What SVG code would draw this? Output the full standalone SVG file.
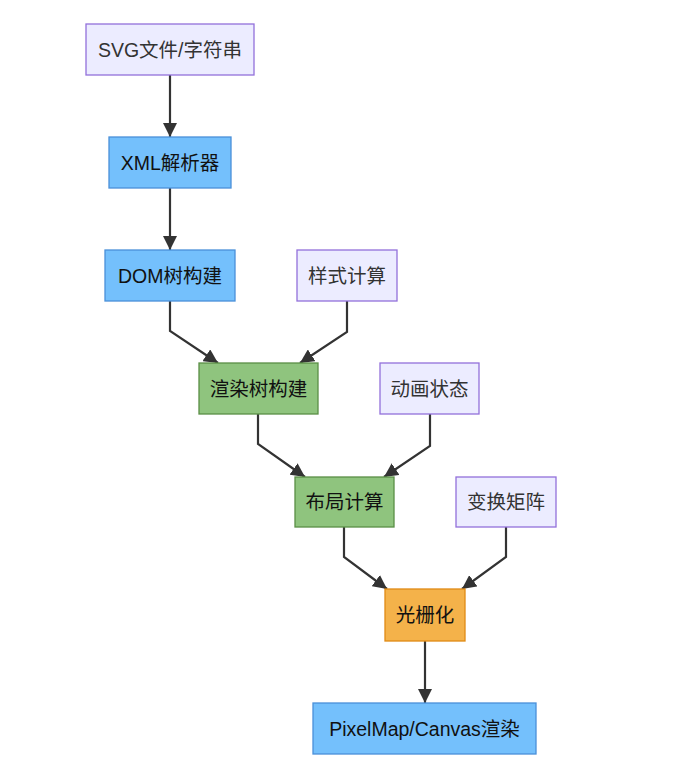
<svg xmlns="http://www.w3.org/2000/svg" width="680" height="784" viewBox="0 0 680 784">
<defs>
<marker id="arr" viewBox="0 0 14 14" refX="14" refY="7" markerWidth="14" markerHeight="14" markerUnits="userSpaceOnUse" orient="auto">
<path d="M0,0 L14,7 L0,14 z" fill="#333"/>
</marker>
<style>
.lav{fill:#ECECFF;stroke:#9370DB;stroke-width:1.3}
.blue{fill:#74C0FC;stroke:#4A90D9;stroke-width:1.3}
.green{fill:#8FC47E;stroke:#5A8F46;stroke-width:1.3}
.orange{fill:#F4B24A;stroke:#E08A14;stroke-width:1.3}
text{font-family:"Liberation Sans","Noto Sans CJK SC",sans-serif;font-size:19.5px;text-anchor:middle;dominant-baseline:central}
.t1{fill:#333}
.t2{fill:#111}
.e{fill:none;stroke:#333;stroke-width:2.2;marker-end:url(#arr)}
</style>
</defs>
<rect width="680" height="784" fill="#fff"/>
<g id="edges">
<path class="e" d="M170,75 L170,137"/>
<path class="e" d="M170,188 L170,250"/>
<path class="e" d="M170,301 L170,331 L218,363"/>
<path class="e" d="M347,301 L347,332 L300,363"/>
<path class="e" d="M258,414 L258,444 L305,477"/>
<path class="e" d="M430,414 L430,446 L384,477"/>
<path class="e" d="M344,527 L344,557 L387,589"/>
<path class="e" d="M506,527 L506,557 L462,589"/>
<path class="e" d="M425,641 L425,703"/>
</g>
<g id="n1"><rect class="lav" x="86" y="24" width="168" height="51"/><text class="t1" x="170" y="49.5">SVG文件/字符串</text></g>
<g id="n2"><rect class="blue" x="109" y="137" width="122" height="51"/><text class="t2" x="170" y="162.5">XML解析器</text></g>
<g id="n3"><rect class="blue" x="105" y="250" width="130" height="51"/><text class="t2" x="170" y="275.5">DOM树构建</text></g>
<g id="n4"><rect class="lav" x="297" y="250" width="100" height="51"/><text class="t1" x="347" y="275.5">样式计算</text></g>
<g id="n5"><rect class="green" x="199" y="363" width="119" height="51"/><text class="t2" x="258.5" y="388.5">渲染树构建</text></g>
<g id="n6"><rect class="lav" x="380" y="363" width="99" height="51"/><text class="t1" x="429.5" y="388.5">动画状态</text></g>
<g id="n7"><rect class="green" x="295" y="477" width="99" height="50"/><text class="t2" x="344.5" y="502">布局计算</text></g>
<g id="n8"><rect class="lav" x="456" y="477" width="100" height="50"/><text class="t1" x="506" y="502">变换矩阵</text></g>
<g id="n9"><rect class="orange" x="385" y="589" width="80" height="52"/><text class="t2" x="425" y="615">光栅化</text></g>
<g id="n10"><rect class="blue" x="313" y="703" width="223" height="51"/><text class="t2" x="424.5" y="728.5">PixelMap/Canvas渲染</text></g>
</svg>
